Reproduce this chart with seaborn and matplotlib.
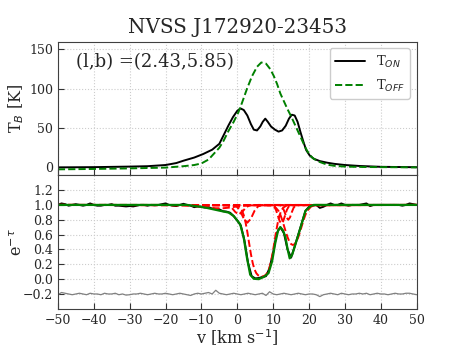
import pandas as pd
import matplotlib
matplotlib.use('Agg')
import matplotlib.pyplot as plt
import seaborn as sns

# emission spectra (top panel)
v_on = [-50, -40, -30, -25, -20, -17, -15, -12, -9.5, -7, -5, -3.8, -2.5, -1.2, 0, 0.9,
        1.8, 2.8, 3.8, 4.6, 5.5, 6.4, 7.1, 7.8, 8.5, 9.4, 10.5, 11.5, 12.5, 13.5, 14.4,
        15.2, 16.0, 16.8, 17.6, 18.4, 19.2, 20.2, 21.3, 23, 25, 27, 30, 34, 40, 50]
t_on = [0.0, 0.3, 1.0, 1.5, 3.0, 5.5, 8.5, 12.5, 17, 22.5, 30, 41, 53, 64, 72, 75,
        73, 66, 55, 48, 47, 52, 58, 62, 58, 52, 48, 45.5, 47, 53, 62,
        67, 66, 58, 45, 33, 22, 15, 11, 8, 6, 4.5, 3, 1.8, 0.7, 0.2]

v_off = [-50, -40, -30, -20, -15, -12, -10, -8, -6.6, -5, -3.8, -2.5, -1.0, 0.3, 1.3,
         2.7, 4.1, 5.5, 6.7, 8.0, 9.2, 10.2, 11.1, 12.0, 13.0, 14.0, 15.0, 16.0, 17.0,
         18.0, 19.0, 20.0, 21.0, 22.3, 25, 27, 30, 35, 50]
t_off = [-2.5, -2.0, -1.3, -0.3, 1.5, 3, 5, 10, 17, 25, 34, 46, 58, 70, 82,
         100, 116, 128, 133.5, 132, 125, 116, 106, 94, 84, 74, 65, 55, 45,
         35, 25, 17, 12, 8, 3.5, 2, 1, 0.5, 0]

# absorption spectrum (bottom panel), 1 km/s channels
v_abs = list(range(-50, 51))
e_tau = [1.00, 1.02, 1.01, 0.99, 1.00, 1.01, 1.00, 0.99, 1.00, 1.02,
         1.00, 0.99, 0.99, 1.00, 1.00, 1.01, 0.99, 0.99, 0.985, 0.98,
         0.985, 0.98, 0.99, 1.00, 1.00, 0.99, 1.00, 0.995, 1.00, 1.01,
         1.02, 1.00, 0.99, 0.985, 1.00, 1.015, 1.00, 0.99, 0.97, 0.98,
         0.975, 0.965, 0.97, 0.95, 0.945, 0.94, 0.915, 0.91, 0.895, 0.85,
         0.79, 0.72, 0.52, 0.22, 0.04, 0.01, 0.015, 0.03, 0.04, 0.15,
         0.36, 0.62, 0.70, 0.62, 0.40, 0.29, 0.44, 0.60, 0.76, 0.92,
         0.975, 0.99, 1.00, 0.96, 0.975, 1.00, 1.02, 1.00, 1.00, 1.02,
         1.00, 0.99, 1.00, 1.00, 1.00, 1.01, 1.02, 0.985, 1.00, 1.00,
         1.00, 1.00, 1.00, 1.00, 1.00, 1.00, 0.99, 1.00, 1.02, 1.01, 1.00]
resid = [-0.21, -0.18, -0.19, -0.20, -0.21, -0.20, -0.19, -0.20, -0.21, -0.19,
         -0.20, -0.20, -0.21, -0.19, -0.20, -0.20, -0.19, -0.21, -0.20, -0.215,
         -0.21, -0.20, -0.20, -0.19, -0.20, -0.21, -0.20, -0.19, -0.20, -0.20,
         -0.19, -0.20, -0.21, -0.20, -0.19, -0.20, -0.21, -0.22, -0.20, -0.19,
         -0.20, -0.19, -0.18, -0.20, -0.15, -0.19, -0.20, -0.21, -0.20, -0.19,
         -0.20, -0.21, -0.20, -0.19, -0.20, -0.21, -0.20, -0.19, -0.22, -0.17,
         -0.20, -0.21, -0.20, -0.19, -0.20, -0.21, -0.20, -0.19, -0.20, -0.21,
         -0.20, -0.20, -0.21, -0.235, -0.21, -0.20, -0.19, -0.20, -0.21, -0.19,
         -0.20, -0.21, -0.20, -0.20, -0.19, -0.20, -0.19, -0.21, -0.20, -0.19,
         -0.20, -0.20, -0.21, -0.20, -0.19, -0.20, -0.20, -0.19, -0.19, -0.20, -0.21]

# model fit (green)
v_fit = [-50, -14, -10.3, -8.5, -4.7, -2.4, -1.0, 0.8, 1.8, 2.7, 3.6, 4.6, 6.0, 7.4,
         8.7, 9.7, 10.6, 11.4, 12.0, 12.7, 13.4, 14.0, 14.6, 15.3, 16.2, 17.6, 19.0,
         20.4, 21.3, 50]
e_fit = [1.0, 1.0, 0.975, 0.96, 0.92, 0.897, 0.85, 0.74, 0.557, 0.285, 0.06, 0.005, 0.0, 0.03,
         0.08, 0.24, 0.49, 0.66, 0.70, 0.66, 0.57, 0.41, 0.28, 0.33, 0.47, 0.69, 0.92,
         0.985, 1.0, 1.0]

# individual gaussian components (red dashed)
comp_v = {
    'A': [-50, -20, -15, -12, -9, -6, -4, -2, 0, 3, 6, 50],
    'B': [-50, -2.6, -1.6, -0.6, 0.4, 1.4, 2.4, 3.4, 50],
    'C': [-50, -1.2, -0.2, 0.8, 1.8, 2.8, 3.8, 4.8, 5.8, 6.8, 50],
    'D': [-50, -1.2, -0.2, 0.8, 1.3, 1.8, 2.3, 2.8, 3.3, 3.8, 4.3, 4.8, 5.3, 5.8, 6.3, 6.8,
          7.3, 7.8, 8.3, 8.8, 9.3, 9.8, 10.3, 10.8, 11.3, 11.8, 12.3, 12.8, 13.8, 14.8, 50],
    'E': [-50, 9.8, 10.3, 10.8, 11.3, 11.8, 12.3, 12.8, 13.3, 13.8, 14.3, 14.8, 50],
    'F': [-50, 11.7, 12.2, 12.7, 13.2, 13.7, 14.2, 14.7, 15.2, 15.7, 16.2, 16.7, 50],
    'G': [-50, 9.5, 10.5, 11.5, 12.0, 12.5, 13.0, 13.5, 14.0, 14.5, 15.0, 15.5, 16.0, 16.5,
          17.0, 17.5, 18.0, 18.5, 19.0, 19.5, 20.5, 21.5, 50],
}
comp_e = {
    'A': [1.0, 1.0, 0.995, 0.985, 0.97, 0.955, 0.955, 0.965, 0.98, 0.995, 1.0, 1.0],
    'B': [1.0, 0.994, 0.966, 0.907, 0.87, 0.907, 0.966, 0.994, 1.0],
    'C': [1.0, 0.998, 0.981, 0.92, 0.816, 0.76, 0.816, 0.92, 0.981, 0.998, 1.0],
    'D': [1.0, 0.999, 0.993, 0.964, 0.926, 0.863, 0.766, 0.636, 0.484, 0.337, 0.216, 0.131, 0.080,
          0.052, 0.039, 0.035, 0.039, 0.052, 0.080, 0.131, 0.216, 0.337, 0.484, 0.636, 0.766,
          0.863, 0.926, 0.964, 0.993, 0.999, 1.0],
    'E': [1.0, 0.994, 0.976, 0.931, 0.856, 0.781, 0.75, 0.781, 0.856, 0.931, 0.976, 0.994, 1.0],
    'F': [1.0, 0.999, 0.99, 0.962, 0.903, 0.832, 0.80, 0.832, 0.903, 0.962, 0.99, 0.999, 1.0],
    'G': [1.0, 0.995, 0.976, 0.919, 0.868, 0.80, 0.721, 0.64, 0.566, 0.508, 0.472, 0.46, 0.472,
          0.508, 0.566, 0.64, 0.721, 0.80, 0.868, 0.919, 0.976, 0.995, 1.0],
}

sns.set_style('ticks')
plt.rcParams['font.family'] = ['DejaVu Serif']
plt.rcParams['mathtext.fontset'] = 'dejavusans'
plt.rcParams['xtick.direction'] = 'in'
plt.rcParams['ytick.direction'] = 'in'

fig, (ax1, ax2) = plt.subplots(2, 1, figsize=(4.63, 3.47), dpi=100, sharex=True,
                               gridspec_kw={'hspace': 0})

sns.lineplot(x=v_on, y=t_on, ax=ax1, color='black', lw=1.4, sort=False,
             estimator=None, label=r'T$_{ON}$')
sns.lineplot(x=v_off, y=t_off, ax=ax1, color='green', lw=1.4, linestyle='--',
             sort=False, estimator=None, label=r'T$_{OFF}$')
ax1.legend(loc='upper right', fontsize=9.5, framealpha=1, edgecolor='0.8',
           handlelength=2.3, labelspacing=0.6)
ax1.text(0.05, 0.85, '(l,b) =(2.43,5.85)', transform=ax1.transAxes, fontsize=13,
         va='center')
ax1.set_title('NVSS J172920-23453', fontsize=14.3)
ax1.set_ylabel(r'T$_B$ [K]', fontsize=11.5)
ax1.set_ylim(-10, 160)
ax1.set_yticks([0, 50, 100, 150])

sns.lineplot(x=v_abs, y=e_tau, ax=ax2, color='black', lw=1.4, sort=False, estimator=None)
for k in comp_v:
    sns.lineplot(x=comp_v[k], y=comp_e[k], ax=ax2, color='red', lw=1.4, linestyle='--',
                 sort=False, estimator=None)
sns.lineplot(x=v_fit, y=e_fit, ax=ax2, color='green', lw=1.6, sort=False, estimator=None)
sns.lineplot(x=v_abs, y=resid, ax=ax2, color='grey', lw=0.9, sort=False, estimator=None)
ax2.set_ylim(-0.4, 1.4)
ax2.set_yticks([-0.2, 0.0, 0.2, 0.4, 0.6, 0.8, 1.0, 1.2])
ax2.set_ylabel(r'e$^{-\tau}$', fontsize=11.5)
ax2.set_xlabel(r'v [km s$^{-1}$]', fontsize=11.5)
ax2.set_xlim(-50, 50)
ax2.set_xticks(range(-50, 51, 10))

for ax in (ax1, ax2):
    ax.grid(True, linestyle=':', color='0.8', lw=0.8)
    ax.tick_params(labelsize=9, length=4, color='0.2')
    for s in ax.spines.values():
        s.set_color('0.25')
    ax.yaxis.set_label_coords(-0.09, 0.5)
ax2.xaxis.set_label_coords(0.5, -0.14)

fig.savefig('out.png', dpi=100)
